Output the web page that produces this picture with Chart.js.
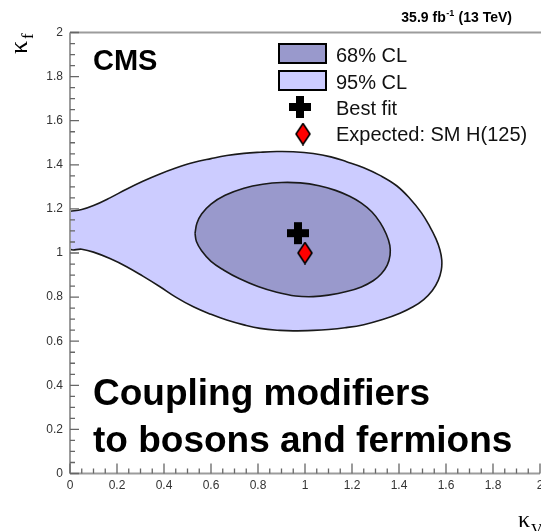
<!DOCTYPE html>
<html>
<head>
<meta charset="utf-8">
<script src="https://cdn.jsdelivr.net/npm/chart.js@4.4.1/dist/chart.umd.min.js"></script>
<style>
  html, body { margin: 0; padding: 0; overflow: hidden; background: #fff; }
  canvas { display: block; }
</style>
</head>
<body>
<canvas id="c" width="560" height="531"></canvas>
<script>
// Axis ticks (kappa_V horizontally, kappa_f vertically)
const kappaVTicks = [0, 0.2, 0.4, 0.6, 0.8, 1, 1.2, 1.4, 1.6, 1.8, 2];
const kappaFTicks = [0, 0.2, 0.4, 0.6, 0.8, 1, 1.2, 1.4, 1.6, 1.8, 2];

// 95% CL contour
const cl95KappaV = [0, 0.05, 0.10, 0.17, 0.24, 0.31, 0.38, 0.45, 0.525, 0.60, 0.667, 0.74, 0.81, 0.88, 0.95,
  1.035, 1.11, 1.177, 1.25, 1.319, 1.39, 1.448, 1.495, 1.530, 1.557, 1.574, 1.582, 1.580, 1.567, 1.542,
  1.505, 1.46, 1.404, 1.33, 1.25, 1.17, 1.10, 1.035, 0.95, 0.894, 0.809, 0.74, 0.667, 0.60, 0.525,
  0.45, 0.383, 0.31, 0.241, 0.17, 0.10, 0.05, 0, 0];
const cl95KappaF = [1.189, 1.197, 1.215, 1.250, 1.289, 1.325, 1.357, 1.385, 1.410, 1.428, 1.442, 1.452, 1.457, 1.460, 1.459,
  1.451, 1.436, 1.414, 1.387, 1.352, 1.305, 1.245, 1.183, 1.122, 1.065, 1.015, 0.968, 0.922, 0.876, 0.830,
  0.789, 0.756, 0.727, 0.698, 0.675, 0.661, 0.653, 0.649, 0.647, 0.649, 0.658, 0.674, 0.696, 0.722, 0.756,
  0.800, 0.847, 0.895, 0.938, 0.975, 1.004, 1.017, 1.021, 1.189];

// 68% CL contour
const cl68KappaV = [0.532, 0.540, 0.560, 0.60, 0.66, 0.74, 0.82, 0.90, 0.98, 1.06, 1.13, 1.19, 1.24, 1.285, 1.32,
  1.346, 1.361, 1.362, 1.350, 1.325, 1.29, 1.24, 1.177, 1.10, 1.035, 0.96, 0.88, 0.80, 0.72, 0.655, 0.60,
  0.560, 0.538, 0.532];
const cl68KappaF = [1.089, 1.135, 1.177, 1.222, 1.262, 1.294, 1.312, 1.320, 1.318, 1.305, 1.284, 1.257, 1.226, 1.186, 1.138,
  1.085, 1.035, 0.990, 0.945, 0.906, 0.874, 0.846, 0.825, 0.809, 0.802, 0.805, 0.822, 0.848, 0.884, 0.922, 0.962,
  1.010, 1.052, 1.089];

// Best fit and SM expectation
const bestFit = [0.97, 1.09];
const smExpected = [1.0, 1.0];

const FILL_95 = '#ccccff';
const FILL_68 = '#9999cc';
const LINE = '#1a1a1a';

const toPoints = (xs, ys) => xs.map((x, i) => ({ x: x, y: ys[i] }));

// Marker images: thick plus and tall diamond
function makeCross() {
  const c = document.createElement('canvas');
  c.width = 24; c.height = 24;
  const g = c.getContext('2d');
  g.fillStyle = '#000';
  g.fillRect(8, 1, 8, 22);
  g.fillRect(1, 8, 22, 8);
  return c;
}
function makeDiamond() {
  const c = document.createElement('canvas');
  c.width = 16; c.height = 23;
  const g = c.getContext('2d');
  g.beginPath();
  g.moveTo(8, 1); g.lineTo(15, 11.5); g.lineTo(8, 22); g.lineTo(1, 11.5); g.closePath();
  g.fillStyle = '#ff0000'; g.fill();
  g.lineWidth = 1.6; g.strokeStyle = '#000'; g.stroke();
  return c;
}
const crossImg = makeCross();
const diamondImg = makeDiamond();

const last95 = cl95KappaV.length - 1;

const decor = {
  id: 'decor',
  afterDatasetsDraw(chart) {
    const ctx = chart.ctx;
    const { left, right, top, bottom } = chart.chartArea;
    const xs = chart.scales.x, ys = chart.scales.y;
    ctx.save();

    // frame lines
    ctx.strokeStyle = '#9c9c9c';
    ctx.lineWidth = 2;
    ctx.beginPath();
    ctx.moveTo(left, top); ctx.lineTo(chart.width, top);
    ctx.moveTo(left, top); ctx.lineTo(left, bottom);
    ctx.moveTo(left, bottom); ctx.lineTo(right, bottom);
    ctx.stroke();

    // inward ticks, 3 minor ticks between majors
    ctx.strokeStyle = '#666';
    ctx.lineWidth = 1.3;
    ctx.beginPath();
    for (let i = 0; i < kappaVTicks.length; i++) {
      const px = xs.getPixelForValue(kappaVTicks[i]);
      ctx.moveTo(px, bottom); ctx.lineTo(px, bottom - 10);
      if (i < kappaVTicks.length - 1) {
        for (let k = 1; k < 4; k++) {
          const v = kappaVTicks[i] + (kappaVTicks[i + 1] - kappaVTicks[i]) * k / 4;
          const mx = xs.getPixelForValue(v);
          ctx.moveTo(mx, bottom); ctx.lineTo(mx, bottom - 5);
        }
      }
    }
    for (let i = 0; i < kappaFTicks.length; i++) {
      const py = ys.getPixelForValue(kappaFTicks[i]);
      ctx.moveTo(left, py); ctx.lineTo(left + 9, py);
      if (i < kappaFTicks.length - 1) {
        for (let k = 1; k < 4; k++) {
          const v = kappaFTicks[i] + (kappaFTicks[i + 1] - kappaFTicks[i]) * k / 4;
          const my = ys.getPixelForValue(v);
          ctx.moveTo(left, my); ctx.lineTo(left + 5, my);
        }
      }
    }
    ctx.stroke();

    // CMS label
    ctx.fillStyle = '#000';
    ctx.textAlign = 'left';
    ctx.textBaseline = 'alphabetic';
    ctx.font = "bold 29px 'Liberation Sans', Arial, sans-serif";
    ctx.fillText('CMS', 93, 70);

    // luminosity label
    const part1 = '35.9 fb', part3 = ' (13 TeV)';
    ctx.font = "bold 14px 'Liberation Sans', Arial, sans-serif";
    const w1 = ctx.measureText(part1).width;
    const w3 = ctx.measureText(part3).width;
    ctx.font = "bold 9px 'Liberation Sans', Arial, sans-serif";
    const w2 = ctx.measureText('-1').width;
    const xEnd = 512;
    const x0 = xEnd - w1 - w2 - w3 - 1;
    ctx.font = "bold 14px 'Liberation Sans', Arial, sans-serif";
    ctx.fillText(part1, x0, 22);
    ctx.font = "bold 9px 'Liberation Sans', Arial, sans-serif";
    ctx.fillText('-1', x0 + w1 + 0.5, 16);
    ctx.font = "bold 14px 'Liberation Sans', Arial, sans-serif";
    ctx.fillText(part3, x0 + w1 + w2 + 1, 22);

    // legend
    ctx.lineWidth = 2;
    ctx.strokeStyle = '#000';
    ctx.fillStyle = FILL_68;
    ctx.fillRect(279, 44, 47, 19);
    ctx.strokeRect(279, 44, 47, 19);
    ctx.fillStyle = FILL_95;
    ctx.fillRect(279, 71, 47, 19);
    ctx.strokeRect(279, 71, 47, 19);
    ctx.drawImage(crossImg, 300 - 12, 107 - 12);
    ctx.drawImage(diamondImg, 303 - 8, 134 - 11.5);
    ctx.fillStyle = '#111';
    ctx.font = "20px 'Liberation Sans', Arial, sans-serif";
    ctx.fillText('68% CL', 336, 61.5);
    ctx.fillText('95% CL', 336, 88.5);
    ctx.fillText('Best fit', 336, 114.5);
    ctx.fillText('Expected: SM H(125)', 336, 141);

    // caption
    ctx.fillStyle = '#000';
    ctx.font = "bold 37px 'Liberation Sans', Arial, sans-serif";
    ctx.fillText('Coupling modifiers', 93, 405);
    ctx.fillText('to bosons and fermions', 93, 452);

    // axis titles
    ctx.font = "24px 'Liberation Serif', 'DejaVu Serif', serif";
    ctx.fillText('\u03BA', 518, 527);
    ctx.font = "16px 'Liberation Serif', 'DejaVu Serif', serif";
    ctx.fillText('V', 531, 535);

    ctx.save();
    ctx.translate(27, 54);
    ctx.rotate(-Math.PI / 2);
    ctx.font = "26px 'Liberation Serif', 'DejaVu Serif', serif";
    ctx.fillText('\u03BA', 0, 0);
    ctx.font = "17px 'Liberation Serif', 'DejaVu Serif', serif";
    ctx.fillText('f', 15, 6);
    ctx.restore();

    ctx.restore();
  }
};

new Chart(document.getElementById('c'), {
  type: 'scatter',
  data: {
    datasets: [
      {
        label: 'Best fit',
        data: [{ x: bestFit[0], y: bestFit[1] }],
        pointStyle: crossImg,
        pointRadius: 11,
        order: 0
      },
      {
        label: 'Expected: SM H(125)',
        data: [{ x: smExpected[0], y: smExpected[1] }],
        pointStyle: diamondImg,
        pointRadius: 11,
        order: 0
      },
      {
        type: 'line',
        label: '68% CL',
        data: toPoints(cl68KappaV, cl68KappaF),
        fill: 'shape',
        backgroundColor: FILL_68,
        borderColor: LINE,
        borderWidth: 1.6,
        pointRadius: 0,
        tension: 0.4,
        order: 1
      },
      {
        type: 'line',
        label: '95% CL',
        data: toPoints(cl95KappaV, cl95KappaF),
        fill: 'shape',
        backgroundColor: FILL_95,
        borderColor: LINE,
        borderWidth: 1.6,
        pointRadius: 0,
        tension: 0.4,
        order: 2,
        segment: {
          borderColor: ctx => (ctx.p1DataIndex === last95 ? 'rgba(0,0,0,0)' : undefined)
        }
      }
    ]
  },
  options: {
    responsive: false,
    devicePixelRatio: 1,
    animation: false,
    events: [],
    layout: { padding: { top: 32.5, right: 20, left: 0, bottom: 0 } },
    plugins: { legend: { display: false }, tooltip: { enabled: false } },
    scales: {
      x: {
        type: 'linear',
        min: 0, max: 2,
        grid: { display: false, drawTicks: false },
        border: { display: false },
        afterFit: s => { s.height = 57.5; },
        afterBuildTicks: s => { s.ticks = kappaVTicks.map(v => ({ value: v })); },
        ticks: {
          padding: 5,
          color: '#333',
          font: { family: "'Liberation Sans', Arial, sans-serif", size: 12 },
          maxRotation: 0,
          autoSkip: false,
          callback: v => String(+v.toFixed(1))
        }
      },
      y: {
        type: 'linear',
        min: 0, max: 2,
        grid: { display: false, drawTicks: false },
        border: { display: false },
        afterFit: s => { s.width = 70; },
        afterBuildTicks: s => { s.ticks = kappaFTicks.map(v => ({ value: v })); },
        ticks: {
          padding: 7,
          color: '#333',
          font: { family: "'Liberation Sans', Arial, sans-serif", size: 12 },
          autoSkip: false,
          callback: v => String(+v.toFixed(1))
        }
      }
    }
  },
  plugins: [decor]
});
</script>
</body>
</html>
